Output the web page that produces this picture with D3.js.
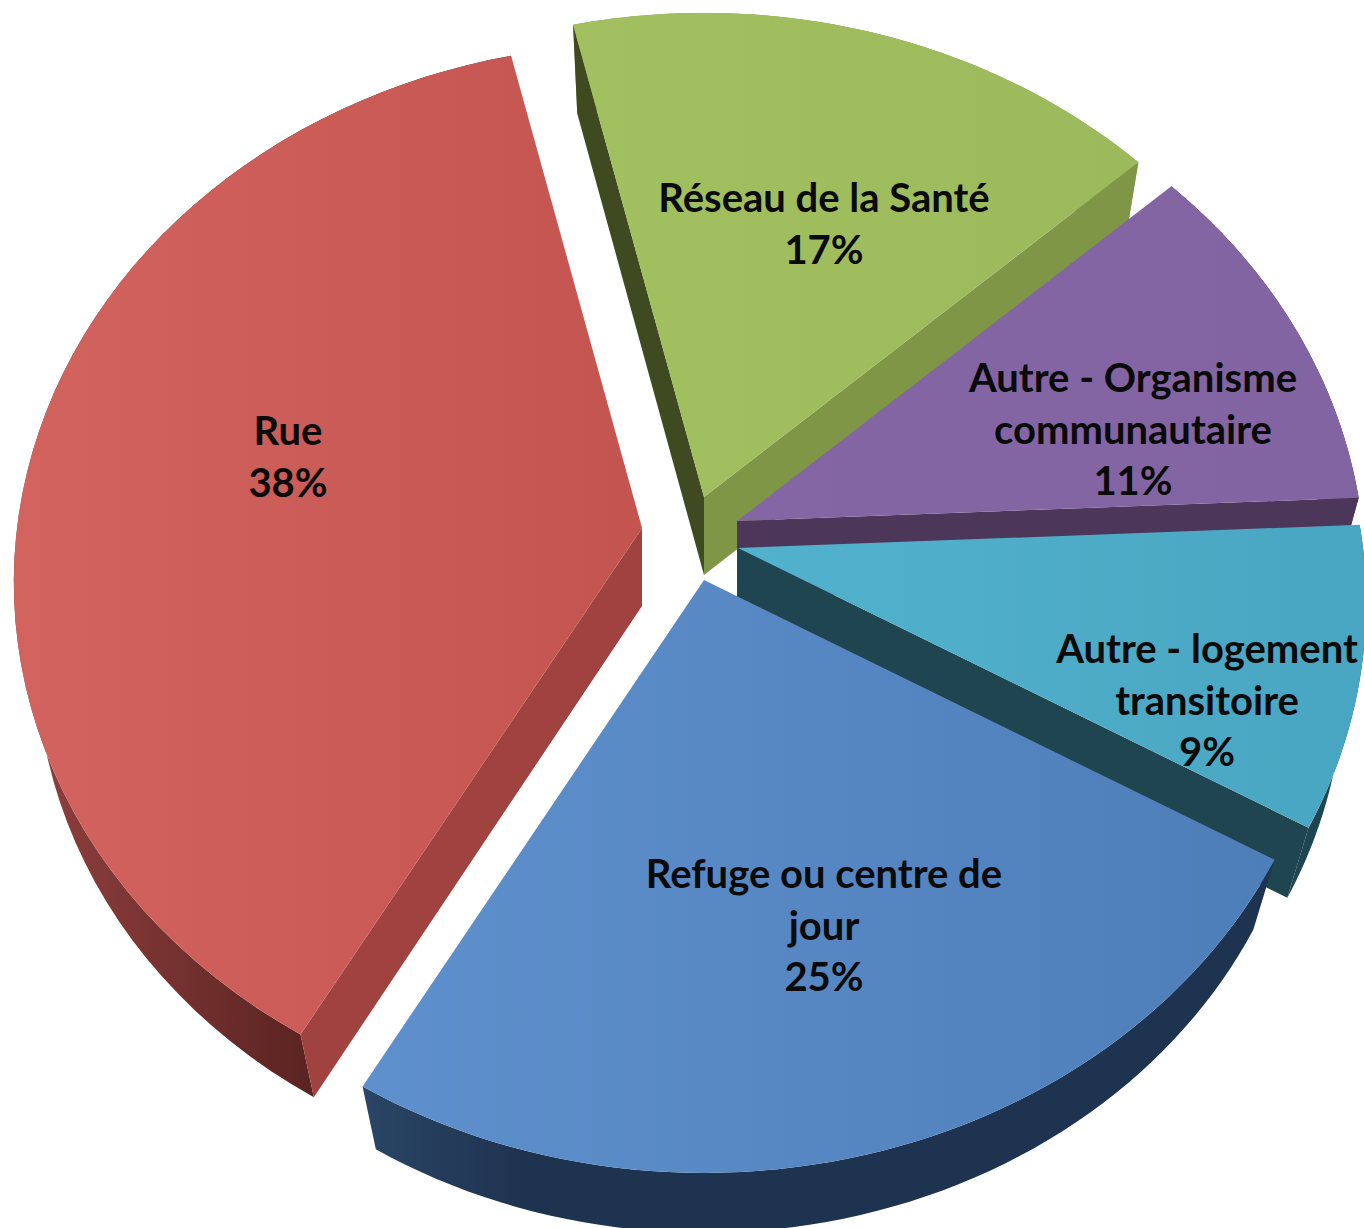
<!DOCTYPE html>
<html lang="fr">
<head>
<meta charset="UTF-8" />
<title>Pie 3D</title>
<script src="https://cdnjs.cloudflare.com/ajax/libs/d3/7.8.5/d3.min.js"></script>
<style>
  html, body { margin: 0; background: #fff; overflow: hidden; }
  text { font-family: Lato, "Open Sans", sans-serif; font-weight: 700; fill: #0a0a0a; }
</style>
</head>
<body>
<svg width="1364" height="1228"></svg>
<script>
// data
const categories = ['Réseau de la Santé', 'Autre - Organisme communautaire', 'Autre - logement transitoire', 'Refuge ou centre de jour', 'Rue']
const values = [17, 11, 9, 25, 38]
const labelLines = [
  ['Réseau de la Santé', '17%'],
  ['Autre - Organisme', 'communautaire', '11%'],
  ['Autre - logement', 'transitoire', '9%'],
  ['Refuge ou centre de', 'jour', '25%'],
  ['Rue', '38%'],
]

// layout of each exploded slice
const apexes = [[704, 497], [737, 521], [738, 548], [704, 580], [642, 528]]
const labelCenters = [[824, 198], [1133, 378], [1207, 649], [824, 874], [288, 431]]
const topColors = [['#a2c05f', '#9cba5c'], ['#8366a3', '#8164a1'], ['#52b2cd', '#49a6c2'], ['#5e90cd', '#4e7eb8'], ['#d2635f', '#c4544f']]
const outerColors = [['#7f9647', '#7f9647'], ['#4c3659', '#4c3659'], ['#1f4650', '#1f4650'], ['#2a4565', '#1e3350'], ['#8c3e3c', '#5a2321']]
const outerSpans = [[0, 1364], [0, 1364], [0, 1364], [365, 520], [50, 312]]
const edgeColors = [['#404a20', '#7f9647'], ['#4c3659', '#4c3659'], ['#1f4650', '#1f4650'], ['#1e3350', '#1e3350'], ['#a0423f', '#a0423f']]

const lineHeight = 51.5
const depthApex = 78
const topFace = { r: 625, rk: 533, p: 0.101 }
const bottomFace = { r: 603, rk: 519, p: 0.097 }

const svg = d3.select('svg')
const defs = svg.append('defs')

const startAngle = (-13.3 * Math.PI) / 180
const pie = d3.pie().sort(null).startAngle(startAngle).endAngle(startAngle + 2 * Math.PI)
const arcs = pie(values)

// perspective: far side of the disc shrinks
function project(face, apex, angle, dy) {
  const w = 1 + face.p * Math.cos(angle)
  return [apex[0] + (face.r * Math.sin(angle)) / w, apex[1] + dy - (face.rk * Math.cos(angle)) / w]
}

const line = d3.line()

function arcPoints(face, apex, a, dy) {
  const t = d3.scaleLinear().domain([0, 60]).range([a.startAngle, a.endAngle])
  return d3.range(61).map((i) => project(face, apex, t(i), dy))
}

function gradient(id, colors, x1, x2) {
  const g = defs.append('linearGradient').attr('id', id).attr('gradientUnits', 'userSpaceOnUse')
    .attr('x1', x1).attr('x2', x2).attr('y1', 0).attr('y2', 0)
  g.append('stop').attr('offset', 0).attr('stop-color', colors[0])
  g.append('stop').attr('offset', 1).attr('stop-color', colors[1])
}

function cross(o, a, b) {
  return (a[0] - o[0]) * (b[1] - o[1]) - (a[1] - o[1]) * (b[0] - o[0])
}

// back to front
const drawOrder = [0, 1, 2, 4, 3]

drawOrder.forEach((i) => {
  const a = arcs[i]
  const apex = apexes[i]
  const apexLow = [apex[0], apex[1] + depthApex]
  const topArc = arcPoints(topFace, apex, a, 0)
  const lowArc = arcPoints(bottomFace, apex, a, depthApex)
  const mid = project(topFace, apex, (a.startAngle + a.endAngle) / 2, 0)
  const g = svg.append('g').attr('class', 'slice')
  g.append('title').text(categories[i])

  const xs = d3.extent(topArc.concat([apex]), (d) => d[0])
  gradient('top' + i, topColors[i], xs[0], xs[1])
  gradient('outer' + i, outerColors[i], outerSpans[i][0], outerSpans[i][1])

  // outer wall
  g.append('path')
    .attr('d', line(topArc.concat(lowArc.slice().reverse())) + 'Z')
    .attr('fill', `url(#outer${i})`)

  // cut walls, only when they face the viewer
  const edges = [[topArc[0], lowArc[0]], [topArc[60], lowArc[60]]]
  edges.forEach((e, j) => {
    const inside = cross(apex, e[0], mid)
    const outside = cross(apex, e[0], e[1]) + cross(apex, e[0], apexLow)
    if (inside * outside < 0) {
      g.append('path')
        .attr('d', line([apex, e[0], e[1], apexLow]) + 'Z')
        .attr('fill', edgeColors[i][j])
    }
  })

  // top face
  g.append('path')
    .attr('d', line([apex].concat(topArc)) + 'Z')
    .attr('fill', `url(#top${i})`)
})

// labels
labelLines.forEach((lines, i) => {
  const t = svg.append('text')
    .attr('text-anchor', 'middle')
    .attr('font-size', 40)
  lines.forEach((s, j) => {
    t.append('tspan')
      .attr('x', labelCenters[i][0])
      .attr('y', labelCenters[i][1] + j * lineHeight)
      .attr('dy', '0.35em')
      .text(s)
  })
})
</script>
</body>
</html>
